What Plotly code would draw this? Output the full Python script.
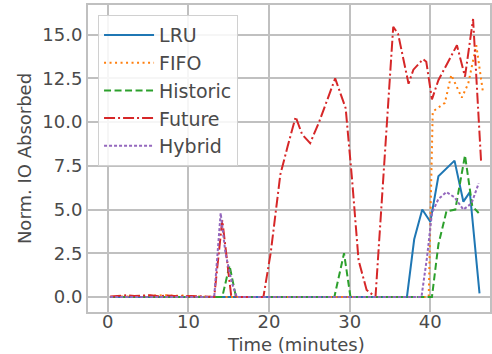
import plotly.graph_objects as go

# ---- data (minutes, normalized IO absorbed) ----
lru_t = [0.3, 5.0, 10.0, 15.0, 20.0, 25.0, 30.0, 35.0, 37.1, 38.0, 39.0, 40.0, 41.0, 43.0, 44.1, 44.9, 46.1]
lru_v = [0.0, 0.0, 0.0, 0.0, 0.0, 0.0, 0.0, 0.0, 0.0, 3.3, 5.0, 4.3, 6.9, 7.8, 5.45, 6.0, 0.2]

fifo_t = [0.3, 1.3, 2.3, 3.3, 4.3, 5.3, 6.3, 7.3, 8.3, 9.3, 10.3, 11.3, 12.3, 13.3, 20.0, 30.0, 39.8,
          40.3, 41.8, 42.6, 43.5, 43.9, 44.7, 45.7, 46.5]
fifo_v = [0.0, 0.02, 0.03, 0.05, 0.08, 0.1, 0.08, 0.1, 0.06, 0.08, 0.04, 0.03, 0.02, 0.0, 0.0, 0.0, 0.0,
          10.6, 11.1, 12.7, 11.8, 11.4, 12.2, 14.4, 11.8]

historic_t = [0.3, 14.2, 15.1, 15.9, 28.1, 29.3, 30.1, 40.2, 41.0, 42.0, 43.1, 44.3, 45.2, 46.0]
historic_v = [0.0, 0.0, 1.8, 0.0, 0.0, 2.5, 0.0, 0.0, 3.0, 4.9, 5.0, 8.1, 5.2, 4.8]

future_t = [0.3, 1.3, 2.3, 3.3, 4.3, 5.3, 6.3, 7.3, 8.3, 9.3, 10.3, 11.3, 12.3, 13.2, 14.2, 15.3,
            16.3, 17.3, 18.3, 19.3, 20.2, 21.4, 22.3, 23.3, 24.1, 25.1, 26.2, 27.2, 28.2, 29.5,
            30.3, 31.1, 32.1, 33.2, 34.3, 35.4, 36.0, 37.3, 37.9, 39.1, 39.5, 40.2, 41.0, 43.3,
            44.3, 45.3, 46.3]
future_v = [0.02, 0.08, 0.1, 0.05, 0.06, 0.1, 0.04, 0.08, 0.05, 0.03, 0.06, 0.04, 0.02, 0.0, 4.4, 0.1,
            0.0, 0.0, 0.0, 0.0, 2.5, 7.0, 8.6, 10.3, 9.3, 8.8, 10.0, 11.2, 12.5, 10.8,
            6.7, 2.1, 0.4, 0.0, 8.0, 15.45, 15.05, 12.2, 13.0, 13.6, 13.45, 11.3, 12.4, 14.4,
            12.6, 15.9, 7.7]

hybrid_t = [0.3, 13.2, 14.0, 14.6, 15.4, 16.0, 38.9, 39.6, 40.2, 41.0, 42.0, 43.0, 44.1, 45.1, 46.0]
hybrid_v = [0.0, 0.0, 4.8, 2.5, 0.8, 0.0, 0.0, 2.3, 4.8, 5.6, 6.0, 5.7, 5.0, 5.35, 6.5]

x_ticks = [0, 10, 20, 30, 40]
y_ticks = [0.0, 2.5, 5.0, 7.5, 10.0, 12.5, 15.0]
y_ticktext = ["0.0", "2.5", "5.0", "7.5", "10.0", "12.5", "15.0"]

series = [
    ("LRU", lru_t, lru_v, "#1f77b4", "solid"),
    ("FIFO", fifo_t, fifo_v, "#ff7f0e", "2px,3.5px"),
    ("Historic", historic_t, historic_v, "#2ca02c", "7px,3.5px"),
    ("Future", future_t, future_v, "#d62728", "11px,3px,2px,3px"),
    ("Hybrid", hybrid_t, hybrid_v, "#9467bd", "3px,2px"),
]

fig = go.Figure()
for name, t, v, color, dash in series:
    fig.add_trace(go.Scatter(x=t, y=v, mode="lines", name=name,
                             line=dict(color=color, width=2, dash=dash)))

grid = "#c0c0c0"
axis_common = dict(showgrid=True, gridcolor=grid, gridwidth=2, zeroline=False,
                   showline=True, linecolor=grid, linewidth=2, mirror=True, ticks="",
                   tickfont=dict(size=18, color="#4a4a4a"))

fig.update_layout(
    width=492, height=354,
    margin=dict(l=88, r=0, t=5, b=42),
    paper_bgcolor="white", plot_bgcolor="white",
    font=dict(family="DejaVu Sans", size=18, color="#4a4a4a"),
    xaxis=dict(range=[-2.45, 47.4], tickvals=x_ticks, ticklabelstandoff=-8,
               **axis_common),
    yaxis=dict(range=[-0.86, 16.7], tickvals=y_ticks, ticktext=y_ticktext,
               title=dict(text="Norm. IO Absorbed", font=dict(size=18, color="#4a4a4a"), standoff=6),
               **axis_common),
    legend=dict(x=0.025, y=0.967, xanchor="left", yanchor="top",
                bgcolor="rgba(255,255,255,0.85)", bordercolor="#d0d0d0", borderwidth=1,
                font=dict(size=19, color="#4a4a4a"), itemwidth=50),
    annotations=[dict(text="Time (minutes)", xref="paper", yref="paper",
                      x=0.517, y=-0.106, xanchor="center", yanchor="middle",
                      showarrow=False, font=dict(size=18, color="#4a4a4a"))],
    showlegend=True,
)

fig.write_html("out.html")
